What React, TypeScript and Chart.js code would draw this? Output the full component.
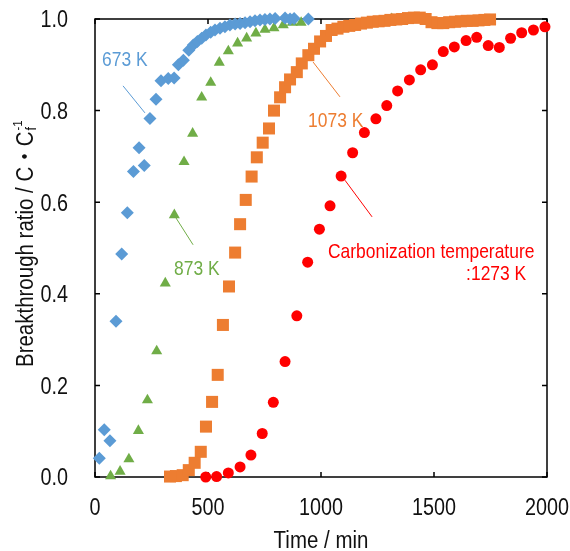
import React, { useEffect, useRef } from 'react';
import { Chart, registerables } from 'chart.js';

Chart.register(...registerables);

const FONT = "'Liberation Sans', Arial, 'Noto Sans CJK JP', sans-serif";

const xTicks = [0, 500, 1000, 1500, 2000];
const xTickLabels = ['0', '500', '1000', '1500', '2000'];
const yTicks = [0, 0.2, 0.4, 0.6, 0.8, 1.0];
const yTickLabels = ['0.0', '0.2', '0.4', '0.6', '0.8', '1.0'];

// 673 K (blue diamonds)
const time673 = [19, 41, 66, 93, 118, 143, 170, 195, 218, 243, 270, 292, 324, 350, 369, 391, 415, 435, 453, 472, 491, 512, 531, 553, 575, 597, 620, 642, 664, 686, 708, 730, 752, 774, 797, 841, 863, 881, 944];
const ratio673 = [0.041, 0.103, 0.079, 0.34, 0.487, 0.577, 0.667, 0.719, 0.68, 0.783, 0.825, 0.865, 0.87, 0.871, 0.9, 0.91, 0.932, 0.943, 0.951, 0.958, 0.965, 0.971, 0.976, 0.98, 0.983, 0.987, 0.989, 0.99, 0.992, 0.994, 0.996, 0.998, 0.999, 1.0, 1.001, 1.002, 1.0, 1.001, 1.0];

// 873 K (green triangles)
const time873 = [69, 111, 150, 192, 232, 273, 311, 351, 394, 432, 472, 512, 550, 590, 631, 671, 712, 752, 792, 833, 873, 912, 1313];
const ratio873 = [0.002, 0.012, 0.039, 0.101, 0.168, 0.275, 0.423, 0.572, 0.688, 0.75, 0.829, 0.861, 0.905, 0.93, 0.947, 0.958, 0.969, 0.977, 0.98, 0.987, 0.992, 0.992, 1.0];

// 1073 K (orange squares)
const time1073 = [332, 358, 388, 415, 441, 468, 491, 518, 543, 566, 593, 620, 642, 667, 693, 716, 742, 770, 792, 819, 841, 863, 893, 915, 944, 969, 996, 1022, 1047, 1073, 1099, 1125, 1151, 1177, 1203, 1229, 1255, 1281, 1307, 1333, 1359, 1385, 1411, 1437, 1463, 1489, 1515, 1541, 1567, 1593, 1619, 1645, 1671, 1697, 1723, 1748];
const ratio1073 = [0.001, 0.002, 0.004, 0.015, 0.031, 0.055, 0.11, 0.164, 0.223, 0.332, 0.416, 0.49, 0.552, 0.605, 0.656, 0.698, 0.73, 0.761, 0.8, 0.829, 0.851, 0.868, 0.884, 0.903, 0.921, 0.935, 0.951, 0.963, 0.976, 0.979, 0.983, 0.985, 0.987, 0.99, 0.992, 0.994, 0.995, 0.996, 0.998, 0.999, 1.0, 1.002, 1.003, 1.003, 1.0, 0.993, 0.991, 0.991, 0.993, 0.994, 0.995, 0.996, 0.996, 0.997, 0.998, 0.999];

// 1273 K (red circles)
const time1273 = [490, 538, 590, 642, 690, 740, 789, 841, 893, 941, 993, 1040, 1089, 1140, 1192, 1243, 1291, 1339, 1391, 1441, 1493, 1541, 1590, 1642, 1689, 1740, 1789, 1839, 1888, 1940, 1991];
const ratio1273 = [0.0, 0.001, 0.009, 0.022, 0.048, 0.095, 0.163, 0.252, 0.352, 0.469, 0.541, 0.592, 0.657, 0.708, 0.752, 0.782, 0.811, 0.843, 0.867, 0.889, 0.9, 0.929, 0.939, 0.953, 0.96, 0.942, 0.938, 0.958, 0.97, 0.976, 0.983];

const BLUE = '#5B9BD5';
const GREEN = '#70AD47';
const ORANGE = '#ED7D31';
const RED = '#FF0000';
const INK = '#111111';

// Annotations (text left edge + baseline in data coordinates)
const annotations = [
  { text: '673 K', x: 31, y: 0.898, color: BLUE, from: [124, 0.854], to: [221, 0.795] },
  { text: '873 K', x: 350, y: 0.441, color: GREEN, from: [345, 0.576], to: [434, 0.507] },
  { text: '1073 K', x: 943, y: 0.764, color: ORANGE, from: [965, 0.906], to: [1084, 0.83] },
  { text: 'Carbonization temperature', x: 1031, y: 0.478, color: RED, from: [1106, 0.648], to: [1226, 0.568] },
  { text: ':1273 K', x: 1642, y: 0.43, color: RED, from: null, to: null },
];

const toPts = (xs: number[], ys: number[]) => xs.map((x, i) => ({ x, y: ys[i] }));

function drawText(ctx: CanvasRenderingContext2D, text: string, x: number, y: number, size: number, sx: number, align: CanvasTextAlign, color: string) {
  ctx.save();
  ctx.translate(x, y);
  ctx.scale(sx, 1);
  ctx.font = `${size}px ${FONT}`;
  ctx.fillStyle = color;
  ctx.textAlign = align;
  ctx.textBaseline = 'alphabetic';
  ctx.fillText(text, 0, 0);
  ctx.restore();
}

const framePlugin = {
  id: 'frame',
  beforeDatasetsDraw(chart: any) {
    const { ctx, chartArea: a, scales } = chart;
    ctx.save();
    ctx.strokeStyle = '#000';
    ctx.lineWidth = 1.5;
    ctx.strokeRect(a.left, a.top, a.right - a.left, a.bottom - a.top);
    ctx.beginPath();
    for (const v of xTicks) {
      const px = scales.x.getPixelForValue(v);
      ctx.moveTo(px, a.bottom); ctx.lineTo(px, a.bottom - 5);
      ctx.moveTo(px, a.top); ctx.lineTo(px, a.top + 5);
    }
    for (const v of yTicks) {
      const py = scales.y.getPixelForValue(v);
      ctx.moveTo(a.left, py); ctx.lineTo(a.left + 5, py);
      ctx.moveTo(a.right, py); ctx.lineTo(a.right - 5, py);
    }
    ctx.stroke();
    ctx.restore();
    // tick labels
    xTicks.forEach((v, i) => {
      drawText(ctx, xTickLabels[i], scales.x.getPixelForValue(v), a.bottom + 38, 23, 0.86, 'center', INK);
    });
    yTicks.forEach((v, i) => {
      drawText(ctx, yTickLabels[i], a.left - 27, scales.y.getPixelForValue(v) + 8.3, 23, 0.86, 'right', INK);
    });
  },
};

const annotPlugin = {
  id: 'annots',
  afterDatasetsDraw(chart: any) {
    const { ctx, scales } = chart;
    ctx.save();
    for (const an of annotations) {
      ctx.strokeStyle = an.color;
      ctx.lineWidth = 1;
      if (an.from && an.to) {
        ctx.beginPath();
        ctx.moveTo(scales.x.getPixelForValue(an.from[0]), scales.y.getPixelForValue(an.from[1]));
        ctx.lineTo(scales.x.getPixelForValue(an.to[0]), scales.y.getPixelForValue(an.to[1]));
        ctx.stroke();
      }
      drawText(ctx, an.text, scales.x.getPixelForValue(an.x), scales.y.getPixelForValue(an.y), 21, 0.83, 'left', an.color);
    }
    ctx.restore();
  },
};

const titlePlugin = {
  id: 'titles',
  afterDraw(chart: any) {
    const { ctx, chartArea: a } = chart;
    // x title
    drawText(ctx, 'Time / min', (a.left + a.right) / 2, 548, 23, 0.89, 'center', INK);
    // y title with subscript and superscript
    const main = 'Breakthrough ratio / C\u30FBC';
    ctx.save();
    ctx.translate(33, 367);
    ctx.rotate(-Math.PI / 2);
    ctx.scale(0.89, 1);
    ctx.fillStyle = INK;
    ctx.textAlign = 'left';
    ctx.textBaseline = 'alphabetic';
    ctx.font = `23px ${FONT}`;
    ctx.fillText(main, 0, 0);
    const w = ctx.measureText(main).width;
    ctx.font = `14px ${FONT}`;
    ctx.fillText('f', w + 1, 3);
    ctx.font = `13px ${FONT}`;
    ctx.fillText('-1', w + 1, -11);
    ctx.restore();
  },
};

export default function App() {
  const ref = useRef<HTMLCanvasElement>(null);
  useEffect(() => {
    if (!ref.current) return;
    const mk = (label: string, xs: number[], ys: number[], color: string, style: string, r: number) => ({
      label,
      data: toPts(xs, ys),
      backgroundColor: color,
      borderColor: color,
      borderWidth: 0,
      pointStyle: style,
      pointRadius: r,
      pointHoverRadius: r,
      showLine: false,
      clip: false as any,
    });
    const chart = new Chart(ref.current, {
      type: 'scatter',
      data: {
        datasets: [
          mk('673 K', time673, ratio673, BLUE, 'rectRot', 6.5),
          mk('1073 K', time1073, ratio1073, ORANGE, 'rect', 8.5),
          mk('873 K', time873, ratio873, GREEN, 'triangle', 6.4),
          mk('1273 K', time1273, ratio1273, RED, 'circle', 5.5),
        ],
      },
      options: {
        responsive: false,
        animation: false,
        devicePixelRatio: 1,
        layout: { padding: { top: 19, right: 23, left: 0, bottom: 0 } },
        plugins: { legend: { display: false }, tooltip: { enabled: false } },
        scales: {
          x: {
            type: 'linear',
            min: 0,
            max: 2000,
            afterFit: (s: any) => { s.height = 74; },
            afterBuildTicks: (s: any) => { s.ticks = xTicks.map((v) => ({ value: v })); },
            grid: { display: false },
            border: { display: false },
            ticks: { display: false },
          },
          y: {
            type: 'linear',
            min: 0,
            max: 1,
            afterFit: (s: any) => { s.width = 95; },
            afterBuildTicks: (s: any) => { s.ticks = yTicks.map((v) => ({ value: v })); },
            grid: { display: false },
            border: { display: false },
            ticks: { display: false },
          },
        },
      },
      plugins: [framePlugin, annotPlugin, titlePlugin],
    });
    return () => chart.destroy();
  }, []);
  return (
    <div style={{ position: 'fixed', left: 0, top: 0, width: 570, height: 551, background: '#fff' }}>
      <canvas ref={ref} width={570} height={551} style={{ width: 570, height: 551, display: 'block' }} />
    </div>
  );
}
